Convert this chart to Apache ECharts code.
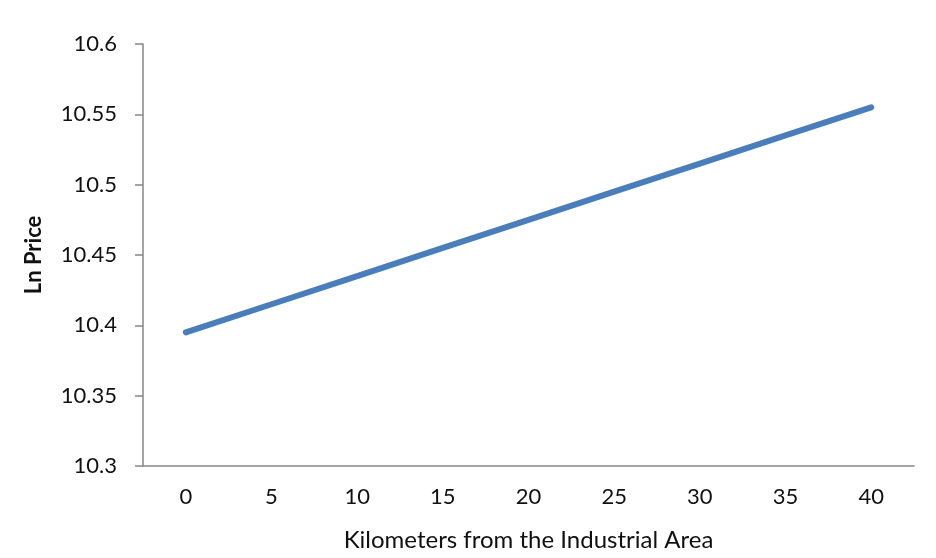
<!DOCTYPE html>
<html>
<head>
<meta charset="utf-8">
<script src="https://cdn.jsdelivr.net/npm/echarts@6/dist/echarts.min.js"></script>
<style>html,body{margin:0;padding:0;background:#fff}#c{width:936px;height:558px}</style>
</head>
<body>
<div id="c"></div>
<script>
const categories = ['0','5','10','15','20','25','30','35','40'];
const lnPrice = [10.395, 10.415, 10.435, 10.455, 10.475, 10.495, 10.515, 10.535, 10.555];
const xAxisName = 'Kilometers from the Industrial Area';
const yAxisName = 'Ln Price';

const chart = echarts.init(document.getElementById('c'));
const axisColor = '#868686';
const font = 'Lato, "Open Sans", sans-serif';
chart.setOption({
  backgroundColor: '#fff',
  animation: false,
  grid: { left: 143, right: 22, top: 44, bottom: 92 },
  xAxis: {
    type: 'category',
    data: categories,
    boundaryGap: true,
    name: xAxisName,
    nameLocation: 'middle',
    nameGap: 62,
    nameTextStyle: { fontFamily: font, fontSize: 24, color: '#111' },
    axisLine: { lineStyle: { color: axisColor, width: 1.5 } },
    axisTick: { length: 7, lineStyle: { color: axisColor, width: 1.5 } },
    axisLabel: { margin: 20, fontFamily: font, fontSize: 22, color: '#111' },
    splitLine: { show: false }
  },
  yAxis: {
    type: 'value',
    min: 10.3,
    max: 10.6,
    interval: 0.05,
    name: yAxisName,
    nameLocation: 'middle',
    nameGap: 98,
    nameTextStyle: { fontFamily: font, fontSize: 22, fontWeight: 'bold', color: '#111' },
    axisLine: { show: true, lineStyle: { color: axisColor, width: 1.5 } },
    axisTick: { show: true, length: 8, lineStyle: { color: axisColor, width: 1.5 } },
    axisLabel: {
      margin: 26, fontFamily: font, fontSize: 22, color: '#111',
      formatter: v => String(+v.toFixed(2))
    },
    splitLine: { show: false }
  },
  series: [{
    type: 'line',
    data: lnPrice,
    showSymbol: false,
    symbol: 'none',
    lineStyle: { color: '#4a7ebb', width: 6, cap: 'round' },
    itemStyle: { color: '#4a7ebb' }
  }]
});
</script>
</body>
</html>
